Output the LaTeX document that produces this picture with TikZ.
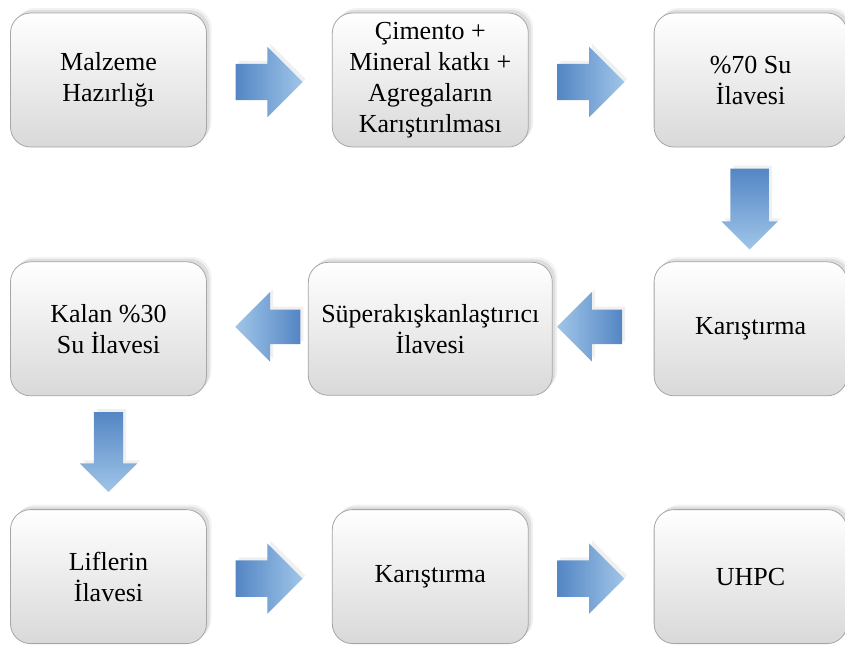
\documentclass[tikz,border=0pt]{standalone}
\usepackage{fontspec}
\setmainfont{Liberation Serif}
\usetikzlibrary{positioning,shapes.arrows,shadows,calc}

\definecolor{arrdark}{RGB}{84,134,196}
\definecolor{arrlight}{RGB}{160,197,232}

\begin{document}
\begin{tikzpicture}[
  x=1pt, y=-1pt,
  font=\fontsize{26}{31}\selectfont,
  box/.style={draw=gray!70, line width=0.8pt, rounded corners=20pt,
              minimum width=196pt, minimum height=134pt, align=center,
              top color=white, bottom color=gray!30,
              drop shadow={shadow xshift=5pt, shadow yshift=5pt, opacity=0.1},
              drop shadow={shadow xshift=3pt, shadow yshift=3pt, opacity=0.18}},
  barrow/.style={single arrow, shape border uses incircle=false,
                 inner xsep=0pt, inner ysep=18pt,
                 minimum height=67pt, single arrow head extend=17pt,
                 drop shadow={shadow xshift=3pt, shadow yshift=3pt, opacity=0.12}},
  rarrow/.style={barrow, left color=arrdark, right color=arrlight},
  larrow/.style={barrow, rotate=180, minimum height=65pt, inner ysep=17pt,
                 single arrow head extend=17.5pt,
                 left color=arrlight, right color=arrdark},
  darrow/.style={barrow, rotate=-90, minimum height=81pt,
                 top color=arrdark, bottom color=arrlight},
]
\useasboundingbox (0,0) rectangle (845,648);

% first row
\node[box] (mh) at (108.5,80) {Malzeme\\Hazırlığı};
\node[box, right=125pt of mh] (ck)
  {Çimento +\\Mineral katkı +\\Agregaların\\Karıştırılması};
\node[box, minimum width=193pt, right=125pt of ck] (su70) {\%70 Su\\İlavesi};

% second row
\node[box, minimum width=193pt, below=114pt of su70] (kar1) {Karıştırma};
\node[box, minimum width=244pt, minimum height=133pt] (sp) at (ck |- kar1)
  {Süperakışkanlaştırıcı\\İlavesi};
\node[box] (kalan) at (mh |- kar1) {Kalan \%30\\Su İlavesi};

% third row
\node[box, below=113pt of kalan] (lif) {Liflerin\\İlavesi};
\node[box] (kar2) at (ck |- lif) {Karıştırma};
\node[box, minimum width=193pt] (uhpc) at (su70 |- lif) {UHPC};

% block arrows (the centre anchor sits in the shaft, hence the offsets)
\node[rarrow] (a1) at ($(mh.east)!0.5!(ck.west)+(-9.5,2)$) {};
\node[rarrow] (a2) at ($(ck.east)!0.5!(su70.west)+(-9.5,2)$) {};
\node[darrow, inner ysep=19pt, single arrow head extend=9pt] (a3)
  at ($(su70.south)!0.5!(kar1.north)+(-1,-5)$) {};
\node[larrow] (a4) at ($(a2 |- kar1)+(16.5,-2)$) {};
\node[larrow] (a5) at ($(a1 |- kar1)+(16.5,-2)$) {};
\node[darrow, minimum height=80pt, inner ysep=14.5pt, single arrow head extend=14pt] (a6)
  at ($(kalan.south)!0.5!(lif.north)+(0,-8)$) {};
\node[rarrow] (a7) at ($(a1 |- lif)+(0,2)$) {};
\node[rarrow] (a8) at ($(a2 |- lif)+(0,2)$) {};

\end{tikzpicture}
\end{document}
